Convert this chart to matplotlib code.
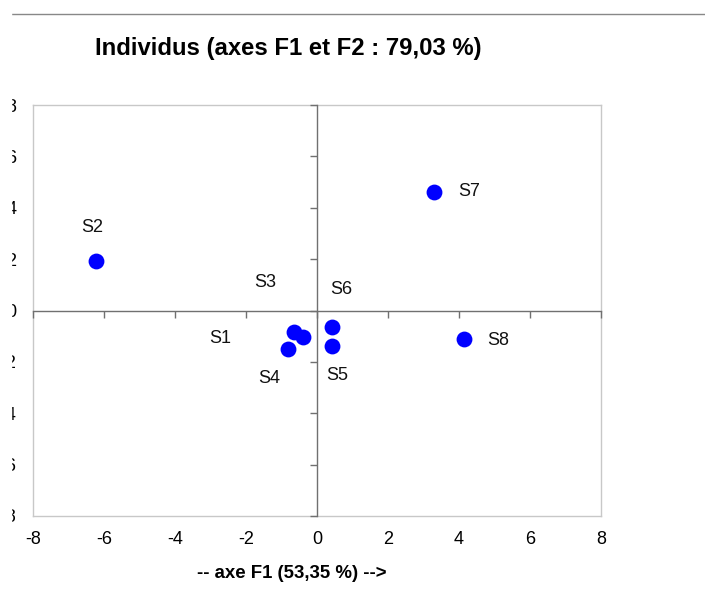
import matplotlib
matplotlib.use("Agg")
import matplotlib.pyplot as plt
from matplotlib.lines import Line2D
from matplotlib.patches import Rectangle

plt.rcParams['font.family'] = ['Liberation Sans', 'DejaVu Sans']

# Data
names = ["S1", "S2", "S3", "S4", "S5", "S6", "S7", "S8"]
f1 = [-0.39, -6.23, -0.65, -0.81, 0.43, 0.43, 3.30, 4.14]
f2 = [-1.04, 1.91, -0.85, -1.50, -1.39, -0.65, 4.62, -1.11]
ticks = [-8, -6, -4, -2, 0, 2, 4, 6, 8]
title = "Individus (axes F1 et F2 : 79,03 %)"
xlabel = "-- axe F1 (53,35 %) -->"

# label offsets (pixels, x right / y up)
offsets = {"S1": (-83, -1), "S2": (-4, 34), "S3": (-29, 50), "S4": (-19, -29),
           "S5": (5, -29), "S6": (9, 38), "S7": (35, 0), "S8": (34, -1)}

W, H = 705, 604
fig = plt.figure(figsize=(W / 100, H / 100), dpi=100)
pos = [33 / W, 1 - 516 / H, (601 - 33) / W, (516 - 105) / H]
ax = fig.add_axes(pos)
ax.set_xlim(-8, 8)
ax.set_ylim(-8, 8)
ax.set_xticks(ticks)
ax.set_yticks(ticks)
ax.set_xticklabels([str(t) for t in ticks])
ax.set_yticklabels([str(t) for t in ticks])
for s in ax.spines.values():
    s.set_color("#c8c8c8")
    s.set_linewidth(1.0)
ax.tick_params(axis='x', length=0, pad=11, labelsize=13)
ax.tick_params(axis='y', length=0, pad=12, labelsize=13)

# inner axes lines with ticks
ax2 = fig.add_axes(pos, sharex=ax, sharey=ax)
ax2.patch.set_alpha(0)
ax2.spines['top'].set_visible(False)
ax2.spines['right'].set_visible(False)
ax2.spines['left'].set_position(('data', 0))
ax2.spines['bottom'].set_position(('data', 0))
for k in ('left', 'bottom'):
    ax2.spines[k].set_color("#707070")
    ax2.spines[k].set_linewidth(1.0)
ax2.tick_params(axis='both', direction='out', length=5, width=1, color="#707070",
                labelleft=False, labelbottom=False)

ax2.scatter(f1, f2, s=130, color="#0000ff", zorder=5, linewidths=0)
for n, x, y in zip(names, f1, f2):
    dx, dy = offsets[n]
    ax2.annotate(n, (x, y), xytext=(dx * 0.72, dy * 0.72), textcoords='offset points',
                 ha='center', va='center', fontsize=13, color="#111111")

fig.text(292 / W, 1 - 573 / H, xlabel, ha='center', va='center', fontsize=13.4, fontweight='bold')
fig.text(288 / W, 1 - 48 / H, title, ha='center', va='center', fontsize=17.2, fontweight='bold')

# separator line at top
fig.add_artist(Line2D([11 / W, 1], [1 - 13.5 / H, 1 - 13.5 / H], color="#888888", lw=1.0))
# left-edge clip of screenshot
fig.add_artist(Rectangle((0, 0), 11 / W, 1, transform=fig.transFigure, color='white', zorder=100))

fig.savefig("out.png", dpi=100)
